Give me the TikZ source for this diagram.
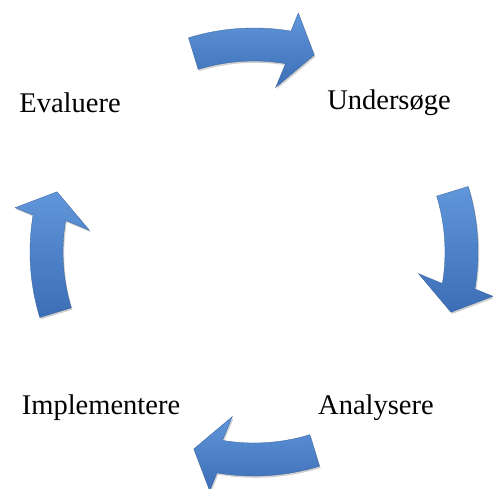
\documentclass[tikz,border=0pt]{standalone}
\usepackage{fontspec}
\setmainfont{Liberation Serif}
\definecolor{arrlight}{RGB}{96,150,218}
\definecolor{arrmid}{RGB}{74,127,196}
\definecolor{arrdark}{RGB}{60,110,182}
\tikzset{
  cyclearrow/.style={top color=arrlight, bottom color=arrdark, draw=arrdark!85!black, line width=0.3pt,
    preaction={fill=black, opacity=0.18, transform canvas={xshift=1.2pt, yshift=-1.8pt}}},
  lbl/.style={font=\fontsize{28.5}{32}\selectfont, text=black, inner sep=0pt}
}
\newcommand{\cyclearrowpath}{%
  (107:224) arc[start angle=107, end angle=80.5, radius=224]
  -- (79.5:243) -- (73:206) -- (82.5:166) -- (80.5:191)
  arc[start angle=80.5, end angle=107, radius=191] -- cycle}
\begin{document}
\begin{tikzpicture}[x=1pt, y=1pt]
\useasboundingbox (0,0) rectangle (493,488);
\coordinate (C) at (254,236);
\node[lbl] (evaluere) at (70,385) {Evaluere};
\node[lbl] (undersoge) at (389,385) {Undersøge};
\node[lbl] (implementere) at (101,80) {Implementere};
\node[lbl] (analysere) at (376,80) {Analysere};
\foreach \k in {0,1,2,3} {
  \begin{scope}[shift={(C)}, rotate=-90*\k]
    \path[cyclearrow] \cyclearrowpath;
  \end{scope}
}
\end{tikzpicture}
\end{document}
